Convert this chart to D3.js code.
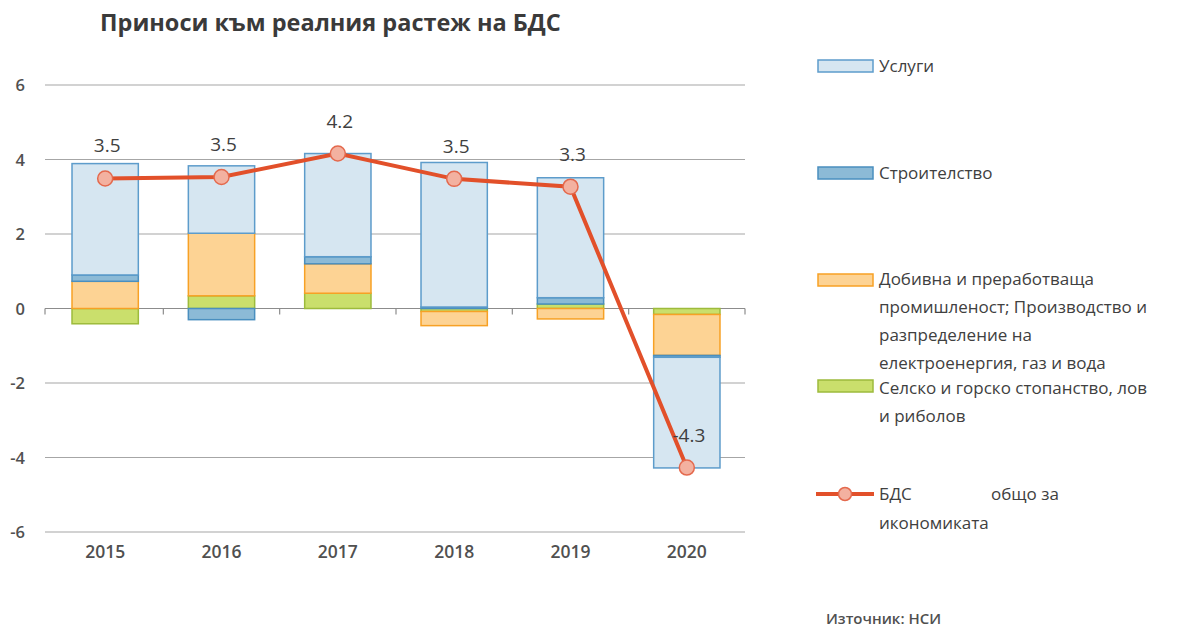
<!DOCTYPE html>
<html>
<head>
<meta charset="utf-8">
<script src="https://cdn.jsdelivr.net/npm/d3@7"></script>
<style>
  body { margin: 0; background: #fff; }
  svg text { font-family: "Open Sans", "Noto Sans", sans-serif; fill: #404040; }
</style>
</head>
<body>
<div id="chart"></div>
<script>
// data
const years = ["2015", "2016", "2017", "2018", "2019", "2020"];
const agriculture = [-0.41, 0.34, 0.41, -0.08, 0.12, -0.16];
const industry = [0.73, 1.68, 0.79, -0.38, -0.28, -1.10];
const construction = [0.17, -0.30, 0.19, 0.04, 0.17, -0.05];
const services = [2.99, 1.81, 2.77, 3.88, 3.22, -2.97];
const gdp = [3.49, 3.53, 4.16, 3.48, 3.27, -4.27];
const yTicks = [-6, -4, -2, 0, 2, 4, 6];

const seriesKeys = ["agri", "ind", "constr", "serv"];
const styles = {
  serv:   { fill: "#d6e6f1", stroke: "#5d9ccb" },
  constr: { fill: "#8cbad6", stroke: "#4a8fbf" },
  ind:    { fill: "#fdd394", stroke: "#f7a125" },
  agri:   { fill: "#cadf6c", stroke: "#9dbb3c" }
};

const width = 1199, height = 630;
const svg = d3.select("#chart").append("svg")
  .attr("width", width).attr("height", height);

const x = d3.scaleBand().domain(years).range([47, 745]).paddingInner(0.43).paddingOuter(0.215);
const y = d3.scaleLinear().domain([-6, 6]).range([532, 85]);

// gridlines
svg.append("g").selectAll("line").data(yTicks).join("line")
  .attr("x1", 45).attr("x2", 745)
  .attr("y1", d => y(d)).attr("y2", d => y(d))
  .attr("stroke", d => d === 0 ? "#8c8c8c" : "#a6a6a6").attr("stroke-width", 1.2);

// y labels
svg.append("g").selectAll("text").data(yTicks).join("text")
  .attr("x", 25).attr("y", d => y(d) + 6)
  .attr("text-anchor", "end")
  .style("font-size", "16.5px").style("font-weight", 600).style("fill", "#505050")
  .text(d => d);

// stacked bars
const table = years.map((yr, i) => ({
  year: yr, agri: agriculture[i], ind: industry[i], constr: construction[i], serv: services[i]
}));
const stacked = d3.stack().keys(seriesKeys).offset(d3.stackOffsetDiverging)(table);

svg.append("g").selectAll("g").data(stacked).join("g")
  .attr("fill", s => styles[s.key].fill)
  .attr("stroke", s => styles[s.key].stroke)
  .attr("stroke-width", 1.5)
  .selectAll("rect").data(s => s).join("rect")
  .attr("x", d => x(d.data.year))
  .attr("width", x.bandwidth())
  .attr("y", d => y(Math.max(d[0], d[1])))
  .attr("height", d => Math.abs(y(d[0]) - y(d[1])));

// x-axis ticks along the zero line
const bounds = [45].concat(years.map(yr => x(yr) + x.bandwidth() + x.step() * x.paddingInner() / 2));
svg.append("g").selectAll("line").data(bounds).join("line")
  .attr("x1", d => d).attr("x2", d => d)
  .attr("y1", y(0)).attr("y2", y(0) + 6)
  .attr("stroke", "#8c8c8c").attr("stroke-width", 1.2);

// x labels
svg.append("g").selectAll("text").data(years).join("text")
  .attr("x", d => x(d) + x.bandwidth() / 2).attr("y", 558)
  .attr("text-anchor", "middle")
  .style("font-size", "17.5px").style("font-weight", 600).style("fill", "#505050")
  .text(d => d);

// GDP line
const line = d3.line().x((d, i) => x(years[i]) + x.bandwidth() / 2).y(d => y(d));
svg.append("path").datum(gdp)
  .attr("d", line).attr("fill", "none")
  .attr("stroke", "#e2502a").attr("stroke-width", 4);

svg.append("g").selectAll("circle").data(gdp).join("circle")
  .attr("cx", (d, i) => x(years[i]) + x.bandwidth() / 2)
  .attr("cy", d => y(d)).attr("r", 7.5)
  .attr("fill", "#f3b1a0").attr("stroke", "#e4694d").attr("stroke-width", 1.5);

svg.append("g").selectAll("text").data(gdp).join("text")
  .attr("x", (d, i) => x(years[i]) + x.bandwidth() / 2 + 2)
  .attr("y", d => y(d) - 26)
  .attr("text-anchor", "middle")
  .style("font-size", "19px")
  .text(d => d.toFixed(1));

// title
svg.append("text")
  .attr("x", 100).attr("y", 31)
  .style("font-size", "23.5px").style("font-weight", 700).style("fill", "#3a3a3a")
  .text("Приноси към реалния растеж на БДС");

// legend
const legend = [
  { key: "serv", y: 66, dy: 6, lines: ["Услуги"] },
  { key: "constr", y: 173, dy: 6, lines: ["Строителство"] },
  { key: "ind", y: 280, dy: 5, lines: ["Добивна и преработваща", "промишленост; Производство и", "разпределение на", "електроенергия, газ и вода"] },
  { key: "agri", y: 386, dy: 8, lines: ["Селско и горско стопанство, лов", "и риболов"] }
];
const lg = svg.append("g");
legend.forEach(item => {
  lg.append("rect")
    .attr("x", 818).attr("y", item.y - 6).attr("width", 55).attr("height", 12)
    .attr("fill", styles[item.key].fill).attr("stroke", styles[item.key].stroke).attr("stroke-width", 1.5);
  item.lines.forEach((t, j) => {
    lg.append("text")
      .attr("x", 879).attr("y", item.y + item.dy + j * 28)
      .style("font-size", "17px")
      .text(t);
  });
});
lg.append("line").attr("x1", 816).attr("x2", 874).attr("y1", 494).attr("y2", 494)
  .attr("stroke", "#e2502a").attr("stroke-width", 4);
lg.append("circle").attr("cx", 845).attr("cy", 494).attr("r", 6.5)
  .attr("fill", "#f3b1a0").attr("stroke", "#e4694d").attr("stroke-width", 1.5);
lg.append("text").attr("x", 879).attr("y", 500).style("font-size", "17px").text("БДС");
lg.append("text").attr("x", 991).attr("y", 500).style("font-size", "17px").text("общо за");
lg.append("text").attr("x", 879).attr("y", 529).style("font-size", "17px").text("икономиката");

// source
svg.append("text")
  .attr("x", 826).attr("y", 624)
  .style("font-size", "15px").style("font-weight", 600).style("fill", "#505050")
  .text("Източник: НСИ");
</script>
</body>
</html>
